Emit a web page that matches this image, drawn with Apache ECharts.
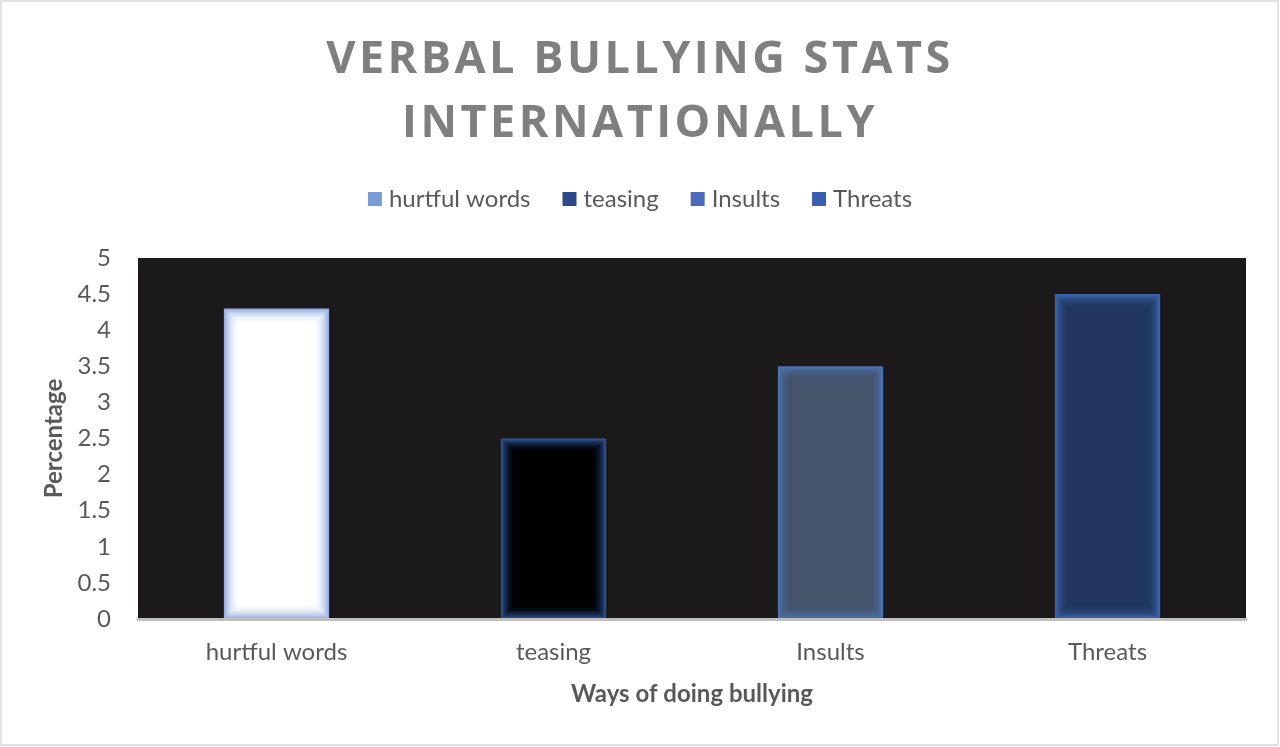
<!DOCTYPE html>
<html>
<head>
<meta charset="utf-8">
<script src="https://cdn.jsdelivr.net/npm/echarts@6/dist/echarts.min.js"></script>
<style>
  html, body { margin: 0; padding: 0; background: #ffffff; }
  #chart { width: 1280px; height: 747px; }
</style>
</head>
<body>
<div id="chart"></div>
<script>
const titleText = 'VERBAL BULLYING STATS\nINTERNATIONALLY';
const categories = ['hurtful words', 'teasing', 'Insults', 'Threats'];
const values = [4.3, 2.5, 3.5, 4.5];
const legendColors = ['#7b9bd6', '#2a4a8a', '#4c6cbb', '#3a5faf'];
const fillColors = ['#ffffff', '#000000', '#45546b', '#21375f'];
const edgeColors = ['#94ade3', '#2f5593', '#4d73b5', '#3d66b0'];
const yTicks = { min: 0, max: 5, interval: 0.5 };

const font = 'Lato, "Open Sans", sans-serif';

// letter-spaced title (spacing applied to the title's canvas text drawing only)
(function () {
  const proto = CanvasRenderingContext2D.prototype;
  const orig = proto.fillText;
  proto.fillText = function (t, x, y, m) {
    if (/45px/.test(this.font) && 'letterSpacing' in this) {
      this.save();
      this.letterSpacing = '3.5px';
      const r = m === undefined ? orig.call(this, t, x, y) : orig.call(this, t, x, y, m);
      this.restore();
      return r;
    }
    return orig.apply(this, arguments);
  };
})();

const GLOW = 15;
function makeRender(i) {
  return function (params, api) {
    const top = api.coord([api.value(0), api.value(1)]);
    const base = api.coord([api.value(0), 0]);
    const w = api.size([1, 0])[0] * 0.38;
    const x = top[0] - w / 2, y = top[1], h = base[1] - top[1];
    const children = [{
      type: 'rect',
      shape: { x: x, y: y, width: w, height: h },
      style: { fill: edgeColors[i] }
    }];
    // inner glow: layered insets, cumulative coverage eases out to solid fill
    for (let d = 1; d <= GLOW; d++) {
      const r = (GLOW - d) / (GLOW - d + 1);
      children.push({
        type: 'rect',
        shape: { x: x + d, y: y + d, width: w - 2 * d, height: h - 2 * d },
        style: { fill: fillColors[i], opacity: 1 - r * r }
      });
    }
    return { type: 'group', children: children };
  };
}

const series = categories.map((name, i) => ({
  name: name,
  type: 'custom',
  renderItem: makeRender(i),
  encode: { x: 0, y: 1 },
  data: [[i, values[i]]],
  itemStyle: { color: legendColors[i] },
  silent: true
}));

const chart = echarts.init(document.getElementById('chart'));
chart.setOption({
  animation: false,
  backgroundColor: '#ffffff',
  title: {
    text: titleText,
    left: 'center',
    top: 23,
    textStyle: {
      fontFamily: '"Open Sans", Lato, sans-serif',
      fontSize: 45,
      fontWeight: 'bold',
      color: '#7f7f7f',
      lineHeight: 64
    }
  },
  legend: {
    top: 182,
    left: 'center',
    icon: 'rect',
    itemWidth: 14,
    itemHeight: 14,
    itemGap: 32,
    textStyle: { fontFamily: font, fontSize: 24, color: '#595959', padding: [0, 0, 0, 2] },
    data: categories.map((c, i) => ({
      name: c,
      itemStyle: { color: legendColors[i], borderWidth: 0 }
    }))
  },
  grid: {
    left: 138,
    right: 34,
    top: 258,
    bottom: 128,
    show: true,
    backgroundColor: '#1b1919',
    borderWidth: 0
  },
  xAxis: {
    type: 'category',
    data: categories,
    z: 10,
    axisTick: { show: false },
    axisLine: { show: true, lineStyle: { color: '#bfbfbf', width: 3 } },
    axisLabel: { fontFamily: font, fontSize: 24, color: '#595959', margin: 21 },
    name: 'Ways of doing bullying',
    nameLocation: 'middle',
    nameGap: 63,
    nameTextStyle: { fontFamily: font, fontSize: 24, fontWeight: 'bold', color: '#595959' }
  },
  yAxis: {
    type: 'value',
    min: yTicks.min,
    max: yTicks.max,
    interval: yTicks.interval,
    splitLine: { show: false },
    axisLine: { show: false },
    axisTick: { show: false },
    axisLabel: { fontFamily: font, fontSize: 24, color: '#595959', margin: 27 },
    name: 'Percentage',
    nameLocation: 'middle',
    nameGap: 69,
    nameRotate: 90,
    nameTextStyle: { fontFamily: font, fontSize: 24, fontWeight: 'bold', color: '#595959' }
  },
  graphic: [{
    type: 'rect',
    silent: true,
    z: 100,
    shape: { x: 1, y: 1, width: 1277, height: 744 },
    style: { fill: 'none', stroke: '#d9d9d9', lineWidth: 1.5 }
  }],
  series: series
});
</script>
</body>
</html>
